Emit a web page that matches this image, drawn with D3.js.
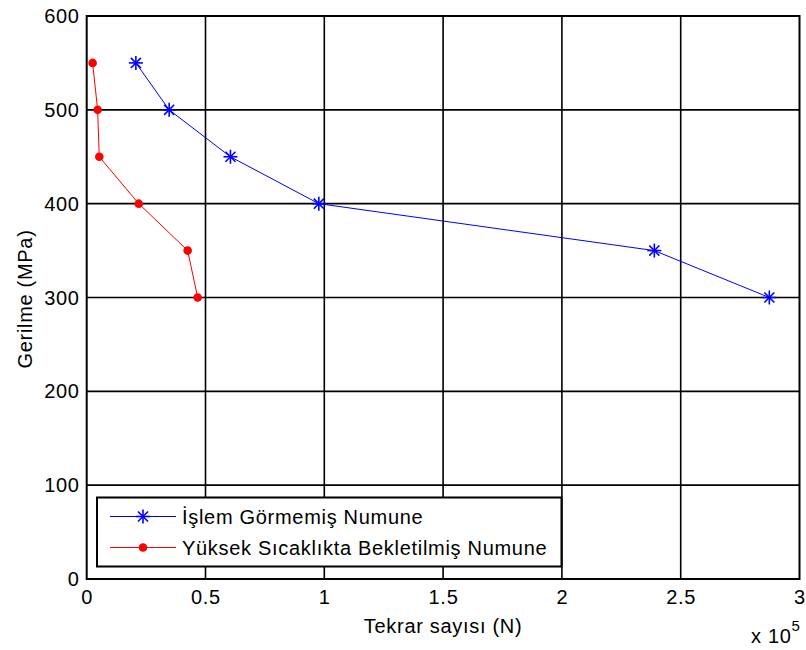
<!DOCTYPE html>
<html lang="tr">
<head>
<meta charset="utf-8">
<title>Gerilme - Tekrar sayısı</title>
<script src="https://cdn.jsdelivr.net/npm/d3@7"></script>
<style>
  body { margin: 0; background: #fff; }
  text { font-family: Arial, "Liberation Sans", sans-serif; fill: #000; letter-spacing: 0.7px; }
</style>
</head>
<body>
<script>
// data (x in units of 10^5 cycles)
var stress = [550, 500, 450, 400, 350, 300];
var cyclesUntreated = [0.207, 0.347, 0.605, 0.977, 2.389, 2.873];
var cyclesAged = [0.025, 0.046, 0.053, 0.219, 0.425, 0.467];
var seriesNames = ["İşlem Görmemiş Numune", "Yüksek Sıcaklıkta Bekletilmiş Numune"];
var xTicks = [0, 0.5, 1, 1.5, 2, 2.5, 3];
var yTicks = [0, 100, 200, 300, 400, 500, 600];

var w = 806, h = 650;
var pLeft = 86.7, pRight = 799.5, pTop = 16, pBottom = 579;
var fs = "20px";

var svg = d3.select("body").append("svg")
  .attr("width", w).attr("height", h);

var x = d3.scaleLinear().domain([0, 3]).range([pLeft, pRight]);
var y = d3.scaleLinear().domain([0, 600]).range([pBottom, pTop]);

// grid
svg.append("g").selectAll("line").data(xTicks.slice(1, -1)).enter().append("line")
  .attr("x1", function(d) { return x(d); }).attr("x2", function(d) { return x(d); })
  .attr("y1", pTop).attr("y2", pBottom)
  .attr("stroke", "#000").attr("stroke-width", 1.6);
svg.append("g").selectAll("line").data(yTicks.slice(1, -1)).enter().append("line")
  .attr("y1", function(d) { return y(d); }).attr("y2", function(d) { return y(d); })
  .attr("x1", pLeft).attr("x2", pRight)
  .attr("stroke", "#000").attr("stroke-width", 1.6);

// box
svg.append("rect")
  .attr("x", pLeft).attr("y", pTop)
  .attr("width", pRight - pLeft).attr("height", pBottom - pTop)
  .attr("fill", "none").attr("stroke", "#000").attr("stroke-width", 2);

// tick labels
svg.append("g").selectAll("text").data(xTicks).enter().append("text")
  .attr("x", function(d) { return x(d) + 0.4; })
  .attr("y", 604)
  .attr("text-anchor", "middle")
  .attr("font-size", fs)
  .text(function(d) { return d; });
svg.append("g").selectAll("text").data(yTicks).enter().append("text")
  .attr("x", 79.7)
  .attr("y", function(d) { return y(d) + 7; })
  .attr("text-anchor", "end")
  .attr("font-size", fs)
  .text(function(d) { return d; });

// axis titles
svg.append("text")
  .attr("x", (pLeft + pRight) / 2).attr("y", 633)
  .attr("text-anchor", "middle").attr("font-size", fs)
  .text("Tekrar sayısı (N)");
svg.append("text")
  .attr("transform", "translate(32,299) rotate(-90)")
  .attr("text-anchor", "middle").attr("font-size", fs)
  .text("Gerilme (MPa)");
var exp = svg.append("text")
  .attr("x", 751).attr("y", 643).attr("font-size", fs);
exp.append("tspan").text("x 10");
exp.append("tspan").attr("dy", -12).attr("font-size", "15px").text("5");

var line = d3.line()
  .x(function(d) { return x(d[0]); })
  .y(function(d) { return y(d[1]); });

var blue = d3.zip(cyclesUntreated, stress);
var red = d3.zip(cyclesAged, stress);

function star(g, cx, cy, r) {
  var s = g.append("g").attr("transform", "translate(" + cx + "," + cy + ")")
    .attr("stroke", "#0000ff").attr("stroke-width", 1.6);
  var d = r * 0.72;
  s.append("line").attr("x1", -r).attr("x2", r).attr("y1", 0).attr("y2", 0);
  s.append("line").attr("y1", -r).attr("y2", r).attr("x1", 0).attr("x2", 0);
  s.append("line").attr("x1", -d).attr("y1", -d).attr("x2", d).attr("y2", d);
  s.append("line").attr("x1", -d).attr("y1", d).attr("x2", d).attr("y2", -d);
}

// untreated series
svg.append("path").datum(blue)
  .attr("d", line).attr("fill", "none")
  .attr("stroke", "#0000ff").attr("stroke-width", 1);
var gb = svg.append("g");
blue.forEach(function(d) { star(gb, x(d[0]), y(d[1]), 7); });

// aged series
svg.append("path").datum(red)
  .attr("d", line).attr("fill", "none")
  .attr("stroke", "#ff0000").attr("stroke-width", 1);
svg.append("g").selectAll("circle").data(red).enter().append("circle")
  .attr("cx", function(d) { return x(d[0]); })
  .attr("cy", function(d) { return y(d[1]); })
  .attr("r", 4.3)
  .attr("fill", "#ff0000");

// legend
var lg = svg.append("g");
lg.append("rect")
  .attr("x", 97).attr("y", 497.5).attr("width", 464.5).attr("height", 69)
  .attr("fill", "#fff").attr("stroke", "#000").attr("stroke-width", 2);
var rows = [516.5, 547.5];
lg.append("line").attr("x1", 110).attr("x2", 176).attr("y1", rows[0]).attr("y2", rows[0])
  .attr("stroke", "#0000ff").attr("stroke-width", 1);
star(lg, 143, rows[0], 7);
lg.append("line").attr("x1", 110).attr("x2", 176).attr("y1", rows[1]).attr("y2", rows[1])
  .attr("stroke", "#ff0000").attr("stroke-width", 1);
lg.append("circle").attr("cx", 143).attr("cy", rows[1]).attr("r", 4.3).attr("fill", "#ff0000");
lg.selectAll("text.lab").data(seriesNames).enter().append("text")
  .attr("class", "lab")
  .attr("x", 182)
  .attr("y", function(d, i) { return rows[i] + 7; })
  .attr("font-size", fs)
  .text(function(d) { return d; });
</script>
</body>
</html>
